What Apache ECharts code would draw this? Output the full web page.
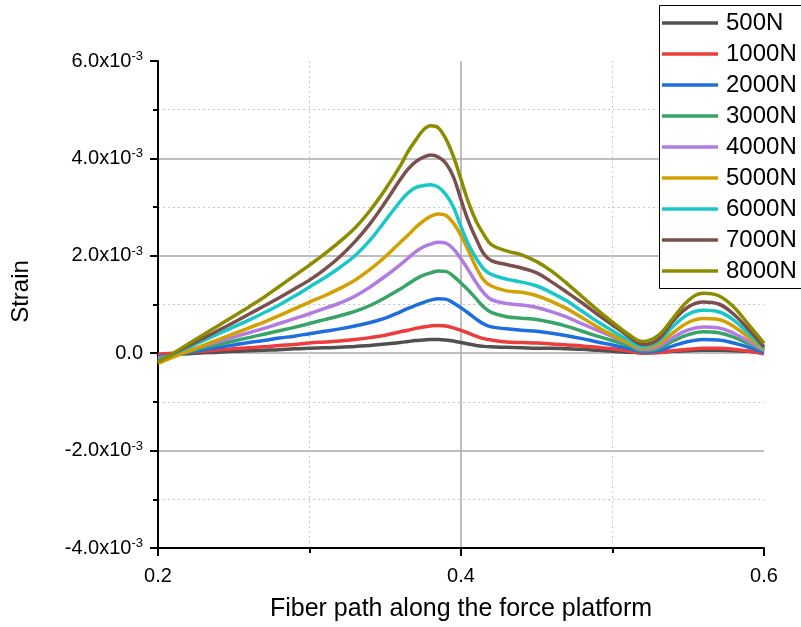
<!DOCTYPE html>
<html>
<head>
<meta charset="utf-8">
<script src="https://cdn.jsdelivr.net/npm/echarts@6/dist/echarts.min.js"></script>
<style>
html,body{margin:0;padding:0;background:#fff;overflow:hidden;}
#chart{width:801px;height:627px;}
</style>
</head>
<body>
<div id="chart"></div>
<script>
// x positions along the fiber path
const xPos = [0.20,0.21,0.22,0.23,0.24,0.25,0.26,0.27,0.28,0.29,0.30,0.31,0.32,0.33,0.34,0.35,0.36,
  0.365,0.37,0.375,0.38,0.385,0.39,0.395,0.40,0.405,0.41,0.415,0.42,
  0.43,0.44,0.45,0.46,0.47,0.48,0.49,0.50,0.51,0.52,0.53,0.54,0.55,0.56,0.57,0.58,0.59,0.60];

// strain values, in units of 1e-3
const s500  = [-0.03,-0.02,-0.01,0.01,0.02,0.04,0.05,0.06,0.07,0.09,0.10,0.11,0.12,0.14,0.16,0.19,0.22,
  0.24,0.26,0.27,0.28,0.28,0.27,0.25,0.22,0.19,0.16,0.14,0.13,
  0.12,0.11,0.10,0.10,0.09,0.08,0.06,0.04,0.02,0.01,0.02,0.04,0.05,0.06,0.06,0.05,0.04,0.02];
const s1000 = [-0.02,0.00,0.02,0.04,0.07,0.09,0.11,0.13,0.16,0.18,0.21,0.23,0.25,0.28,0.32,0.37,0.44,
  0.47,0.51,0.54,0.56,0.57,0.56,0.52,0.47,0.41,0.35,0.30,0.27,
  0.23,0.22,0.21,0.19,0.17,0.15,0.12,0.09,0.05,0.00,0.01,0.05,0.08,0.10,0.10,0.08,0.04,-0.01];
const s2000 = [-0.08,-0.03,0.02,0.07,0.12,0.17,0.22,0.26,0.31,0.35,0.40,0.45,0.50,0.56,0.63,0.72,0.85,
  0.92,0.98,1.04,1.09,1.12,1.11,1.03,0.93,0.82,0.70,0.60,0.54,
  0.50,0.47,0.45,0.41,0.36,0.30,0.23,0.17,0.10,0.03,0.05,0.15,0.24,0.28,0.27,0.21,0.12,0.02];
const s3000 = [-0.10,-0.03,0.04,0.11,0.18,0.25,0.32,0.39,0.46,0.53,0.61,0.69,0.77,0.86,0.98,1.14,1.32,
  1.42,1.52,1.60,1.65,1.69,1.68,1.58,1.44,1.29,1.12,0.95,0.84,
  0.75,0.72,0.69,0.63,0.55,0.45,0.35,0.26,0.16,0.05,0.09,0.25,0.38,0.44,0.42,0.33,0.19,0.05];
const s4000 = [-0.12,-0.03,0.06,0.15,0.24,0.33,0.42,0.51,0.61,0.71,0.81,0.92,1.03,1.17,1.36,1.58,1.82,
  1.95,2.08,2.18,2.24,2.28,2.26,2.14,1.94,1.70,1.45,1.24,1.10,
  1.02,0.99,0.94,0.85,0.74,0.60,0.47,0.34,0.21,0.08,0.13,0.32,0.48,0.54,0.52,0.41,0.24,0.06];
const s5000 = [-0.21,-0.08,0.04,0.16,0.28,0.40,0.52,0.64,0.77,0.91,1.05,1.18,1.33,1.50,1.72,1.98,2.28,
  2.42,2.58,2.71,2.81,2.86,2.83,2.67,2.42,2.10,1.76,1.50,1.38,
  1.28,1.25,1.18,1.06,0.91,0.73,0.54,0.37,0.22,0.11,0.18,0.42,0.63,0.71,0.69,0.55,0.32,0.08];
const s6000 = [-0.15,-0.02,0.12,0.26,0.40,0.54,0.68,0.83,0.99,1.17,1.36,1.55,1.76,2.00,2.32,2.72,3.12,
  3.29,3.40,3.44,3.46,3.41,3.26,3.00,2.60,2.23,1.95,1.73,1.62,
  1.52,1.46,1.38,1.24,1.07,0.86,0.65,0.46,0.28,0.14,0.24,0.55,0.80,0.88,0.85,0.68,0.40,0.10];
const s7000 = [-0.17,-0.01,0.15,0.31,0.47,0.63,0.80,0.97,1.14,1.32,1.50,1.72,1.98,2.29,2.66,3.10,3.57,
  3.78,3.93,4.02,4.07,4.03,3.90,3.62,3.15,2.70,2.35,2.04,1.90,
  1.82,1.75,1.65,1.46,1.25,1.03,0.80,0.58,0.36,0.18,0.28,0.66,0.95,1.05,1.01,0.80,0.48,0.13];
const s8000 = [-0.18,0.00,0.19,0.38,0.57,0.76,0.95,1.15,1.37,1.59,1.81,2.04,2.29,2.57,2.93,3.36,3.85,
  4.14,4.37,4.58,4.67,4.63,4.40,4.04,3.57,3.09,2.71,2.44,2.23,
  2.10,2.02,1.88,1.68,1.43,1.16,0.89,0.64,0.40,0.24,0.36,0.72,1.08,1.23,1.18,0.95,0.58,0.20];

const seriesNames = ['500N','1000N','2000N','3000N','4000N','5000N','6000N','7000N','8000N'];
const seriesValues = [s500,s1000,s2000,s3000,s4000,s5000,s6000,s7000,s8000];
const seriesColors = ['#505050','#ee3b3b','#1e6ee0','#38a468','#b27be0','#d2a000','#18c8c8','#7d4e4e','#8c8c00'];

// tick labels
const xTickText = {'0.2':'0.2','0.4':'0.4','0.6':'0.6'};
const yTickText = {'-4':'-4.0','-2':'-2.0','0':'0.0','2':'2.0','4':'4.0','6':'6.0'};

const FONT = '"Liberation Sans", Arial, Helvetica, sans-serif';

const chart = echarts.init(document.getElementById('chart'), null, {renderer:'canvas'});

const series = seriesNames.map((name, i) => ({
  name: name,
  type: 'line',
  data: xPos.map((x, j) => [x, seriesValues[i][j]]),
  smooth: 0.4,
  showSymbol: false,
  symbol: 'none',
  lineStyle: {width: 3.5, color: seriesColors[i]},
  itemStyle: {color: seriesColors[i]},
  emphasis: {disabled: true},
  z: 2 + i
}));

chart.setOption({
  animation: false,
  backgroundColor: '#fff',
  textStyle: {fontFamily: FONT},
  grid: {left: 158, right: 37, top: 61, bottom: 79, containLabel: false, outerBoundsMode: 'none'},
  graphic: [{
    type: 'rect',
    shape: {x: 659.5, y: 5.5, width: 200, height: 283},
    style: {fill: '#fff', stroke: null, lineWidth: 0},
    z: 24, silent: true
  }, {
    type: 'polyline',
    shape: {points: [[900, 5.5], [659.5, 5.5], [659.5, 288.5], [900, 288.5]]},
    style: {fill: null, stroke: '#000', lineWidth: 1},
    z: 25, silent: true
  }],
  legend: {
    orient: 'vertical',
    left: 659,
    top: 5,
    padding: [6, 0, 5, 3],
    itemGap: 7,
    itemWidth: 56,
    itemHeight: 3.5,
    icon: 'rect',
    borderWidth: 0,
    backgroundColor: 'transparent',
    selectedMode: false,
    textStyle: {fontSize: 24, lineHeight: 24, color: '#000', fontFamily: FONT, padding: [0,0,0,3]},
    data: seriesNames,
    z: 30
  },
  xAxis: {
    type: 'value',
    min: 0.2, max: 0.6, interval: 0.2,
    name: 'Fiber path along the force platform',
    nameLocation: 'middle',
    nameGap: 49,
    nameTextStyle: {fontSize: 25, color: '#000', fontFamily: FONT},
    axisLine: {show: true, onZero: false, lineStyle: {color: '#000', width: 2}},
    axisTick: {show: true, inside: false, length: 8, lineStyle: {color: '#000', width: 2}},
    minorTick: {show: true, splitNumber: 2, length: 5, lineStyle: {color: '#000', width: 2}},
    axisLabel: {fontSize: 20, color: '#000', margin: 18, fontFamily: FONT,
      formatter: v => xTickText[v.toFixed(1)] || v.toFixed(1)},
    splitLine: {show: true, showMinLine: false, showMaxLine: false, lineStyle: {color: '#aaaaaa', width: 1.5}},
    minorSplitLine: {show: true, lineStyle: {color: '#c8c8c8', width: 1, type: [2, 3]}}
  },
  yAxis: {
    type: 'value',
    min: -4, max: 6, interval: 2,
    name: 'Strain',
    nameLocation: 'middle',
    nameGap: 125,
    nameRotate: 90,
    nameTextStyle: {fontSize: 24, color: '#000', fontFamily: FONT, padding: [0,0,0,26]},
    axisLine: {show: true, onZero: false, lineStyle: {color: '#000', width: 2}},
    axisTick: {show: true, inside: false, length: 8, lineStyle: {color: '#000', width: 2}},
    minorTick: {show: true, splitNumber: 2, length: 5, lineStyle: {color: '#000', width: 2}},
    axisLabel: {
      margin: 15, color: '#000', fontFamily: FONT,
      formatter: v => {
        const k = String(Math.round(v));
        const t = yTickText[k];
        return k === '0' ? '{b|' + t + '}' : '{b|' + t + 'x10}{s|-3}';
      },
      rich: {
        b: {fontSize: 20, lineHeight: 26, color: '#000', fontFamily: FONT},
        s: {fontSize: 13, lineHeight: 26, verticalAlign: 'top', color: '#000', fontFamily: FONT, padding: [2,0,0,0]}
      }
    },
    splitLine: {show: true, showMinLine: false, showMaxLine: false, lineStyle: {color: '#aaaaaa', width: 1.5}},
    minorSplitLine: {show: true, lineStyle: {color: '#c8c8c8', width: 1, type: [2, 3]}}
  },
  series: series
});
</script>
</body>
</html>
